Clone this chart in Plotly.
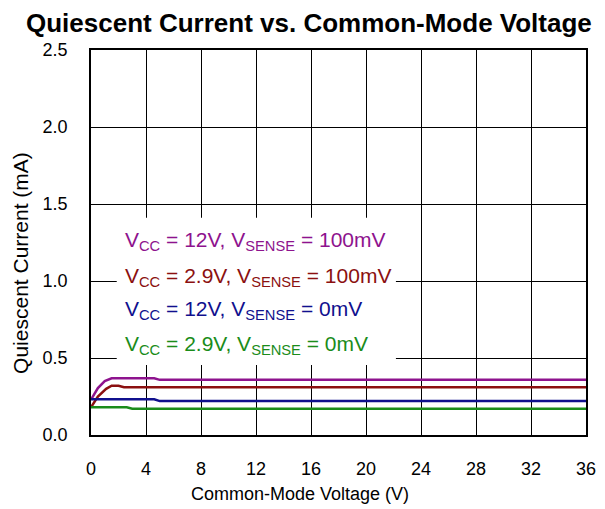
import plotly.graph_objects as go

# Data (Common-mode voltage in V, quiescent current in mA)
x_p = [0, 0.5, 1.0, 1.5, 4.6, 5.0, 36]
y_p = [0.23, 0.305, 0.35, 0.368, 0.368, 0.358, 0.358]
x_r = [0, 0.5, 1.1, 1.5, 2.0, 2.4, 36]
y_r = [0.18, 0.25, 0.30, 0.32, 0.32, 0.31, 0.31]
x_b = [0, 4.6, 5.0, 36]
y_b = [0.232, 0.232, 0.22, 0.22]
x_g = [0, 2.6, 3.0, 36]
y_g = [0.18, 0.18, 0.17, 0.17]

labels = [
    "V<sub>CC</sub> = 12V, V<sub>SENSE</sub> = 100mV",
    "V<sub>CC</sub> = 2.9V, V<sub>SENSE</sub> = 100mV",
    "V<sub>CC</sub> = 12V, V<sub>SENSE</sub> = 0mV",
    "V<sub>CC</sub> = 2.9V, V<sub>SENSE</sub> = 0mV",
]
colors = ["#8e138e", "#8b1010", "#10108e", "#1a8c1a"]
series = [(x_p, y_p), (x_r, y_r), (x_b, y_b), (x_g, y_g)]
label_y = [1.258, 1.027, 0.812, 0.585]

x_ticks = [0, 4, 8, 12, 16, 20, 24, 28, 32, 36]
y_ticks = [0.0, 0.5, 1.0, 1.5, 2.0, 2.5]

x_title = "Common-Mode Voltage (V)"
y_title = "Quiescent Current (mA)"

FONT = "Liberation Sans, Arial, Helvetica, sans-serif"

fig = go.Figure()
for (xs, ys), c, name in zip(series, colors, labels):
    fig.add_trace(go.Scatter(x=xs, y=ys, mode="lines", name=name,
                             line=dict(color=c, width=2.5), showlegend=False))

fig.add_shape(type="rect", xref="paper", yref="y", x0=0.052, x1=0.616, y0=0.455, y1=1.41,
              fillcolor="white", line=dict(width=0), layer="above")

for lab, c, ly in zip(labels, colors, label_y):
    fig.add_annotation(x=0.064, xref="paper", y=ly, yref="y", text=lab, showarrow=False,
                       xanchor="left", yanchor="middle",
                       font=dict(family=FONT, size=21, color=c))

# axis titles placed as annotations for exact positioning
fig.add_annotation(x=0.422, xref="paper", y=-0.153, yref="paper", text=x_title,
                   showarrow=False, xanchor="center", yanchor="middle",
                   font=dict(family=FONT, size=18, color="black"))
fig.add_annotation(x=-0.1414, xref="paper", y=0.447, yref="paper", text=y_title,
                   showarrow=False, xanchor="center", yanchor="middle", textangle=-90,
                   font=dict(family=FONT, size=21, color="black"))

# page body has an 8px margin, so the figure is sized to fill the window from (8,8)
fig.update_layout(
    width=597, height=501,
    margin=dict(l=83, r=19, t=42, b=74, autoexpand=False),
    paper_bgcolor="white", plot_bgcolor="white",
    font=dict(family=FONT, color="black"),
    title=dict(text="<b>Quiescent Current vs. Common-Mode Voltage</b>", x=0.504, xanchor="center",
               xref="container", y=0.97, yanchor="middle", automargin=False,
               font=dict(family=FONT, size=26, color="black")),
)
fig.update_xaxes(range=[0, 36], tickvals=x_ticks, ticktext=[str(v) for v in x_ticks],
                 showgrid=True, gridcolor="black", gridwidth=1,
                 showline=True, linecolor="black", linewidth=1.5, mirror=True,
                 ticks="", zeroline=False, automargin=False,
                 tickfont=dict(size=18), ticklabelstandoff=17)
fig.update_yaxes(range=[0, 2.5], tickvals=y_ticks, ticktext=[f"{v:.1f}" for v in y_ticks],
                 showgrid=True, gridcolor="black", gridwidth=1,
                 showline=True, linecolor="black", linewidth=1.5, mirror=True,
                 ticks="", zeroline=False, automargin=False,
                 tickfont=dict(size=18), ticklabelstandoff=18)

fig.write_html("out.html")
